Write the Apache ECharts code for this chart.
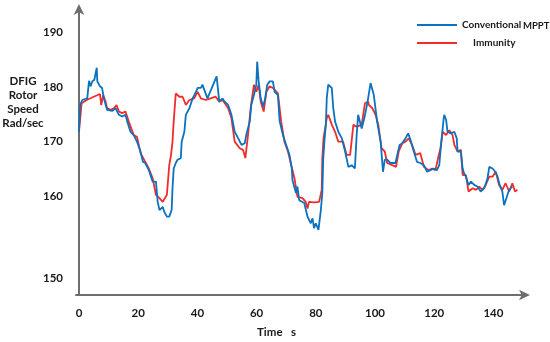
<!DOCTYPE html>
<html>
<head>
<meta charset="utf-8">
<script src="https://cdn.jsdelivr.net/npm/echarts@6/dist/echarts.min.js"></script>
<style>html,body{margin:0;padding:0;background:#fff}#c{width:550px;height:342px}</style>
</head>
<body>
<div id="c"></div>
<script>
var xTicks = [0, 20, 40, 60, 80, 100, 120, 140];
var yTicks = [145, 160, 170, 180, 190];
var yTickText = ['150', '160', '170', '180', '190'];

var timeConv = [0,0.4,1.1,2.8,3.4,3.9,4.5,5.2,6.0,6.2,7.1,7.8,8.4,9.5,11.2,12.4,13.5,14.6,15.7,16.3,17.4,18.5,19.6,20.8,21.6,22.4,23.6,24.9,26.0,26.6,27.2,28.3,28.8,29.7,30.5,31.3,31.6,32.0,32.7,33.3,34.4,34.7,35.6,36.1,37.3,38.4,39.5,40.1,41.2,41.7,43.4,45.1,46.5,47.4,48.5,49.2,50.4,51.5,52.6,53.8,54.9,56.0,56.5,57.7,58.2,59.1,59.9,60.2,60.7,61.4,62.2,62.9,63.6,64.4,65.5,66.1,67.2,67.8,68.9,70.0,71.1,71.9,72.1,73.3,73.8,74.4,76.1,77.2,78.3,78.9,79.4,80.0,80.9,81.7,82.2,82.5,82.9,83.4,83.7,84.2,84.8,85.4,85.9,86.5,87.6,88.8,89.9,91.0,92.1,93.2,93.8,94.3,95.5,96.4,97.5,98.5,99.0,99.6,100.7,101.9,102.7,103.3,104.1,105.2,106.9,107.5,108.3,109.2,110.3,111.2,112.0,113.1,114.2,115.3,116.5,117.6,118.7,119.8,120.9,121.7,122.4,123.2,123.4,124.0,124.5,125.6,126.8,127.6,127.9,129.0,129.6,130.1,130.7,131.6,132.4,133.5,134.6,135.7,136.9,138.0,138.6,139.7,140.6,141.4,142.1,143.0,143.6,144.4,145.1,145.8,146.4];
var speedConv = [171.8,176.7,177.6,177.9,181.1,180.1,181.0,181.3,183.5,181.0,180.1,179.8,177.9,175.8,175.6,176.1,174.9,174.6,174.9,173.7,171.8,171.2,170.0,168.2,166.3,166.1,164.8,162.7,162.7,159.0,157.5,158.1,157.2,156.3,156.3,157.5,161.5,165.1,166.1,166.7,167.0,170.0,171.8,174.9,176.1,177.9,179.1,179.8,179.8,180.4,177.9,180.1,181.9,177.3,177.9,177.3,176.7,174.9,171.8,170.6,169.4,169.7,171.2,173.7,176.7,178.5,180.4,184.6,181.0,177.9,176.4,177.9,180.4,181.0,181.0,179.1,178.5,173.7,171.2,169.4,167.6,165.1,163.0,160.6,161.8,159.3,158.8,156.3,155.1,156.0,154.2,155.1,153.9,157.5,160.6,166.7,170.0,173.1,177.9,180.4,180.7,179.8,176.1,173.7,171.8,170.6,168.2,165.4,165.7,165.1,171.2,174.9,172.4,174.3,177.3,180.7,180.4,178.5,173.7,170.0,164.5,166.7,166.7,166.1,166.1,166.3,169.4,169.7,170.6,171.5,170.3,168.2,166.3,166.1,165.7,164.5,164.8,165.1,164.8,165.7,170.0,174.3,174.9,174.0,171.8,171.5,171.8,170.6,168.2,168.2,165.1,164.2,163.6,162.1,162.7,162.1,161.8,160.9,161.5,163.3,165.4,165.1,164.5,163.6,162.1,160.9,158.4,159.7,160.9,161.5,161.8];

var timeImm = [0,0.9,2.6,5.0,7.1,7.5,8.2,9.0,9.5,10.7,11.8,12.7,13.5,14.6,15.1,15.7,16.8,18.5,19.6,20.8,22.4,23.6,24.9,26.0,27.2,28.3,28.8,29.7,30.5,31.1,31.6,32.0,32.7,33.9,35.0,36.1,37.3,38.9,40.1,41.2,42.8,44.5,46.2,47.4,48.5,50.4,51.5,52.6,54.3,55.4,56.2,57.1,58.0,59.1,59.9,60.7,61.4,62.4,63.3,64.4,65.5,67.2,68.3,69.4,70.6,71.7,72.8,73.8,75.5,76.6,77.2,77.7,79.4,81.1,82.0,82.2,82.6,83.7,84.2,85.4,86.5,87.6,89.2,90.4,91.6,92.7,93.8,95.5,96.6,97.7,97.9,99.1,100.2,101.1,102.2,103.3,104.1,105.8,107.1,108.0,109.2,110.3,111.4,112.5,113.7,115.3,116.5,118.1,119.3,120.4,121.3,122.1,122.9,124.0,125.1,126.2,126.8,127.9,129.0,129.6,130.7,131.6,133.0,134.1,135.2,136.3,137.4,138.6,139.7,140.8,141.9,143.0,144.1,145.3,146.4,147.3,148.1];
var speedImm = [171.8,177.0,177.6,178.2,178.7,176.7,178.5,177.3,176.1,175.8,176.1,176.7,175.5,175.2,174.9,175.5,173.7,171.2,170.9,167.9,166.3,165.1,163.3,160.3,159.7,159.0,158.7,160.3,165.7,167.6,170.0,173.7,178.8,178.2,178.2,176.7,177.6,177.9,179.1,177.9,177.6,177.9,178.2,177.3,177.6,176.1,174.3,170.0,168.8,168.5,167.0,171.2,176.1,180.4,179.1,180.4,177.3,175.5,179.1,180.1,179.8,178.8,173.7,170.0,168.2,165.7,163.3,159.9,159.7,159.0,157.8,159.0,158.9,159.0,161.2,167.0,170.6,174.3,174.9,173.1,171.8,170.0,170.0,167.6,167.6,173.1,172.7,173.1,177.0,177.3,176.7,176.1,174.9,173.1,168.8,168.2,166.1,165.7,165.4,168.2,169.7,170.0,170.6,169.4,167.6,167.9,165.4,164.8,165.1,164.8,167.0,168.8,171.8,171.2,172.1,171.2,169.4,168.2,168.5,163.9,163.9,160.9,161.5,161.2,161.8,161.2,162.1,163.6,163.6,164.5,162.1,161.2,162.4,160.9,162.4,160.9,161.2];

function pairs(t, v) { return t.map(function (x, i) { return [x, v[i]]; }); }

var FONT = "'Lato', sans-serif";
var chart = echarts.init(document.getElementById('c'), null, { renderer: 'canvas' });
chart.setOption({
  animation: false,
  backgroundColor: '#ffffff',
  grid: { left: 76, right: 24, top: 8, bottom: 47 },
  legend: [
    { data: ['Conventional'], left: 412, top: 15, orient: 'vertical', icon: 'rect', itemWidth: 40, itemHeight: 2, itemGap: 0,
      textStyle: { fontFamily: FONT, fontSize: 10, fontWeight: 'bold', color: '#1a1a1a', padding: [0, 0, 10, 0] } },
    { data: ['Immunity'], left: 412, top: 33, orient: 'vertical', icon: 'rect', itemWidth: 40, itemHeight: 2, itemGap: 0,
      textStyle: { fontFamily: FONT, fontSize: 10, fontWeight: 'bold', color: '#1a1a1a', padding: [3, 0, 0, 11] } }
  ],
  xAxis: {
    type: 'value', min: -1, max: 151,
    axisLine: { show: true, lineStyle: { color: '#6e6e6e', width: 2 }, symbol: ['none', 'arrow'], symbolSize: [8, 11], symbolOffset: [0, 4] },
    axisTick: { show: false },
    splitLine: { show: false },
    axisLabel: { customValues: xTicks, margin: 12, fontFamily: FONT, fontSize: 11.5, fontWeight: 'bold', color: '#1a1a1a' }
  },
  yAxis: {
    type: 'value', min: 142, max: 194.4,
    axisLine: { show: true, lineStyle: { color: '#6e6e6e', width: 2 }, symbol: ['none', 'arrow'], symbolSize: [8, 11], symbolOffset: [0, 4] },
    axisTick: { show: false },
    splitLine: { show: false },
    axisLabel: {
      customValues: yTicks, margin: 13, fontFamily: FONT, fontSize: 11.5, fontWeight: 'bold', color: '#1a1a1a',
      formatter: function (v) { var i = yTicks.indexOf(v); return i >= 0 ? yTickText[i] : ''; }
    }
  },
  graphic: [
    { type: 'text', x: 23, y: 74, style: { text: 'DFIG\nRotor\nSpeed\nRad/sec', align: 'center', lineHeight: 14, font: "bold 11.5px 'Lato', sans-serif", fill: '#1a1a1a' } },
    { type: 'text', x: 257, y: 326, style: { text: 'Time   s', font: "bold 11.5px 'Lato', sans-serif", fill: '#1a1a1a' } },
    { type: 'text', x: 523, y: 21, style: { text: 'MPPT', font: "bold 9.5px 'Lato', sans-serif", fill: '#1a1a1a' } }
  ],
  series: [
    { name: 'Immunity', type: 'line', data: pairs(timeImm, speedImm), showSymbol: false, z: 2,
      lineStyle: { color: '#F22B2B', width: 1.8 }, itemStyle: { color: '#F22B2B' } },
    { name: 'Conventional', type: 'line', data: pairs(timeConv, speedConv), showSymbol: false, z: 3,
      lineStyle: { color: '#0A72BE', width: 1.8 }, itemStyle: { color: '#0A72BE' } }
  ]
});
</script>
</body>
</html>
